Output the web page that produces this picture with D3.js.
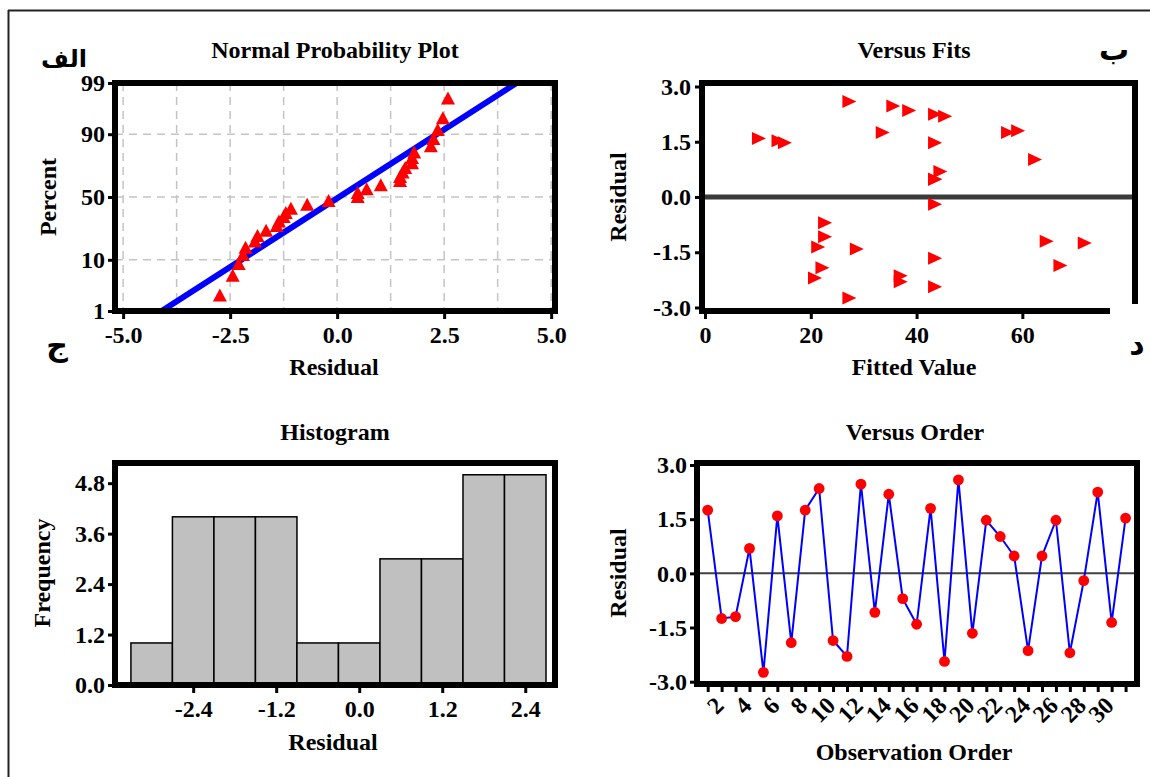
<!DOCTYPE html>
<html>
<head>
<meta charset="utf-8">
<script src="https://cdn.jsdelivr.net/npm/d3@7"></script>
<style>
body{margin:0;background:#fff;}
</style>
</head>
<body>
<div id="chart"></div>
<script>
// residuals in observation order, and the fitted value for each one
var residuals = [1.75, -1.25, -1.20, 0.69, -2.74, 1.59, -1.92, 1.75, 2.35, -1.86,
	-2.30, 2.47, -1.08, 2.19, -0.70, -1.41, 1.80, -2.44, 2.59, -1.66,
	1.47, 1.02, 0.48, -2.14, 0.48, 1.47, -2.20, -0.20, 2.25, -1.36, 1.53];
var fittedValues = [57.3, 71.8, 64.6, 44.5, 27.3, 10.2, 22.2, 33.6, 38.6, 67.2,
	37.0, 35.6, 22.7, 45.4, 22.7, 28.7, 59.2, 43.5, 27.3, 43.5,
	15.1, 62.4, 43.5, 37.0, 43.5, 43.5, 20.8, 43.5, 43.5, 21.4, 13.9];
// histogram bins (midpoints, width 0.6) and counts
var histMidpoints = [-3.0, -2.4, -1.8, -1.2, -0.6, 0.0, 0.6, 1.2, 1.8, 2.4];
var histCounts = [1, 4, 4, 4, 1, 1, 3, 3, 5, 5];
var histBinWidth = 0.6;

// tick labels
var probTicks = [1, 10, 50, 90, 99];
var probGrid = [10, 50, 90];
var residXTicks = [-5, -2.5, 0, 2.5, 5];
var residGridX = [-5, -3.75, -2.5, -1.25, 0, 1.25, 2.5, 3.75, 5];
var residYTicks = [-3, -1.5, 0, 1.5, 3];
var fitTicks = [0, 20, 40, 60];
var histXTicks = [-2.4, -1.2, 0, 1.2, 2.4];
var histYTicks = [0, 1.2, 2.4, 3.6, 4.8];
var orderTicks = d3.range(1, 32);

var W = 1150, H = 777;
var FONT = "'Liberation Serif','Times New Roman',serif";
var AR_FONT = "'DejaVu Sans',sans-serif";
var RED = "#ff0000", BLUE = "#0000ff";

var svg = d3.select("#chart").append("svg")
	.attr("width", W).attr("height", H)
	.style("background", "#fff");

// inverse normal cdf (Acklam)
function normInv(p){
	var a = [-39.69683028665376, 220.9460984245205, -275.9285104469687, 138.3577518672690, -30.66479806614716, 2.506628277459239];
	var b = [-54.47609879822406, 161.5858368580409, -155.6989798598866, 66.80131188771972, -13.28068155211977];
	var c = [-0.007784894002430293, -0.3223964580411365, -2.400758277161838, -2.549732539343734, 4.374664141464968, 2.938163982698783];
	var d = [0.007784695709041462, 0.3224671290700398, 2.445134137142996, 3.754408661907416];
	var pl = 0.02425, q, r;
	if (p < pl){
		q = Math.sqrt(-2 * Math.log(p));
		return (((((c[0]*q+c[1])*q+c[2])*q+c[3])*q+c[4])*q+c[5]) / ((((d[0]*q+d[1])*q+d[2])*q+d[3])*q+1);
	}
	if (p > 1 - pl){
		q = Math.sqrt(-2 * Math.log(1 - p));
		return -(((((c[0]*q+c[1])*q+c[2])*q+c[3])*q+c[4])*q+c[5]) / ((((d[0]*q+d[1])*q+d[2])*q+d[3])*q+1);
	}
	q = p - 0.5; r = q * q;
	return (((((a[0]*r+a[1])*r+a[2])*r+a[3])*r+a[4])*r+a[5])*q / (((((b[0]*r+b[1])*r+b[2])*r+b[3])*r+b[4])*r+1);
}
function fmt1(v){ return v.toFixed(1); }

function addText(x, y, str, opts){
	opts = opts || {};
	var t = svg.append("text")
		.attr("x", x).attr("y", y)
		.attr("text-anchor", opts.anchor || "middle")
		.attr("font-family", opts.family || FONT)
		.attr("font-weight", "bold")
		.attr("font-size", opts.size || 24)
		.attr("fill", "#000")
		.text(str);
	if (opts.rotate) t.attr("transform", "rotate(" + opts.rotate + "," + x + "," + y + ")").attr("dy", "0.35em");
	return t;
}
function styleAxis(g){
	g.select(".domain").remove();
	g.selectAll(".tick line").attr("stroke", "#000").attr("stroke-width", 3);
	g.selectAll(".tick text")
		.attr("font-family", FONT).attr("font-weight", "bold")
		.attr("font-size", 24).attr("fill", "#000");
}
function frameRect(l, t, r, b){
	svg.append("rect")
		.attr("x", l).attr("y", t).attr("width", r - l).attr("height", b - t)
		.attr("fill", "none").attr("stroke", "#000").attr("stroke-width", 6);
}

// outer border (top and left only)
svg.append("line").attr("x1", 8).attr("y1", 10.5).attr("x2", W).attr("y2", 10.5)
	.attr("stroke", "#222").attr("stroke-width", 2);
svg.append("line").attr("x1", 8.5).attr("y1", 10).attr("x2", 8.5).attr("y2", H)
	.attr("stroke", "#222").attr("stroke-width", 2);

/* ---------- Normal Probability Plot ---------- */
(function(){
	var L = 115, R = 555, T = 83, B = 311;
	var x = d3.scaleLinear().domain([-5.19, 5.09]).range([L, R]);
	var y = d3.scaleLinear().domain([normInv(0.01), normInv(0.99)]).range([B, T]);
	var n = residuals.length;
	var sorted = residuals.slice().sort(d3.ascending);
	var pts = sorted.map(function(v, i){
		return {x: v, z: normInv((i + 1 - 0.3) / (n + 0.4))};
	});
	var mu = d3.mean(residuals), sd = d3.deviation(residuals);

	var grid = svg.append("g").attr("stroke", "#c4c4c4").attr("stroke-width", 1.5)
		.attr("stroke-dasharray", "8,6");
	grid.selectAll(".gx").data(residGridX).enter().append("line")
		.attr("x1", function(d){return x(d);}).attr("x2", function(d){return x(d);})
		.attr("y1", T).attr("y2", B);
	grid.selectAll(".gy").data(probGrid).enter().append("line")
		.attr("x1", L).attr("x2", R)
		.attr("y1", function(d){return y(normInv(d / 100));})
		.attr("y2", function(d){return y(normInv(d / 100));});

	var z1 = normInv(0.01), z2 = normInv(0.99);
	svg.append("line")
		.attr("x1", x(mu + sd * z1)).attr("y1", y(z1))
		.attr("x2", x(mu + sd * z2)).attr("y2", y(z2))
		.attr("stroke", BLUE).attr("stroke-width", 6);

	svg.append("g").selectAll("path").data(pts).enter().append("path")
		.attr("d", "M-7,6L7,6L0,-7Z")
		.attr("fill", RED)
		.attr("transform", function(d){return "translate(" + x(d.x) + "," + y(d.z) + ")";});

	frameRect(L, T, R, B);

	svg.append("g").attr("transform", "translate(0," + B + ")")
		.call(d3.axisBottom(x).tickValues(residXTicks).tickFormat(fmt1).tickSize(8).tickPadding(7))
		.call(styleAxis);
	svg.append("g").attr("transform", "translate(" + L + ",0)")
		.call(d3.axisLeft(y).tickValues(probTicks.map(function(p){return normInv(p / 100);}))
			.tickFormat(function(d, i){return probTicks[i];}).tickSize(7).tickPadding(3))
		.call(styleAxis);

	addText(335, 58, "Normal Probability Plot");
	addText(334, 375, "Residual");
	addText(48, 197, "Percent", {rotate: -90});
})();

/* ---------- Versus Fits ---------- */
(function(){
	var L = 702, R = 1135, T = 83, B = 311;
	var x = d3.scaleLinear().domain([-0.57, 81.3]).range([L, R]);
	var y = d3.scaleLinear().domain([-3, 3]).range([307.5, 86.5]);

	svg.append("line").attr("x1", L).attr("x2", R + 3).attr("y1", y(0)).attr("y2", y(0))
		.attr("stroke", "#3a3a3a").attr("stroke-width", 5);

	svg.append("g").selectAll("path").data(residuals).enter().append("path")
		.attr("d", "M-7,-6.5L7,0L-7,6.5Z")
		.attr("fill", RED)
		.attr("transform", function(d, i){return "translate(" + x(fittedValues[i]) + "," + y(d) + ")";});

	// frame: open at the lower right corner
	var fr = svg.append("g").attr("stroke", "#000").attr("stroke-width", 6);
	fr.append("line").attr("x1", L - 3).attr("x2", R + 3).attr("y1", T).attr("y2", T);
	fr.append("line").attr("x1", L).attr("x2", L).attr("y1", T).attr("y2", B + 3);
	fr.append("line").attr("x1", L).attr("x2", 1110).attr("y1", B).attr("y2", B);
	fr.append("line").attr("x1", R).attr("x2", R).attr("y1", T - 3).attr("y2", 304);

	svg.append("g").attr("transform", "translate(0," + B + ")")
		.call(d3.axisBottom(x).tickValues(fitTicks).tickFormat(d3.format("d")).tickSize(8).tickPadding(7))
		.call(styleAxis);
	svg.append("g").attr("transform", "translate(" + L + ",0)")
		.call(d3.axisLeft(y).tickValues(residYTicks).tickFormat(fmt1).tickSize(7).tickPadding(4))
		.call(styleAxis);

	addText(914, 58, "Versus Fits");
	addText(914, 375, "Fitted Value");
	addText(618, 197, "Residual", {rotate: -90});
})();

/* ---------- Histogram ---------- */
(function(){
	var L = 115, R = 555, T = 463, B = 685;
	var x = d3.scaleLinear().domain([-3.53, 2.83]).range([L, R]);
	var y = d3.scaleLinear().domain([0, 5.28]).range([B, T]);

	svg.append("g").selectAll("rect").data(histCounts).enter().append("rect")
		.attr("x", function(d, i){return x(histMidpoints[i] - histBinWidth / 2);})
		.attr("width", function(d, i){return x(histMidpoints[i] + histBinWidth / 2) - x(histMidpoints[i] - histBinWidth / 2);})
		.attr("y", function(d){return y(d);})
		.attr("height", function(d){return y(0) - y(d);})
		.attr("fill", "#c0c0c0").attr("stroke", "#000").attr("stroke-width", 1.5);

	frameRect(L, T, R, B);

	svg.append("g").attr("transform", "translate(0," + B + ")")
		.call(d3.axisBottom(x).tickValues(histXTicks).tickFormat(fmt1).tickSize(8).tickPadding(7))
		.call(styleAxis);
	svg.append("g").attr("transform", "translate(" + L + ",0)")
		.call(d3.axisLeft(y).tickValues(histYTicks).tickFormat(fmt1).tickSize(7).tickPadding(3))
		.call(styleAxis);

	addText(335, 440, "Histogram");
	addText(333, 750, "Residual");
	addText(42, 573, "Frequency", {rotate: -90});
})();

/* ---------- Versus Order ---------- */
(function(){
	var L = 697, R = 1137, T = 463, B = 684;
	var x = d3.scaleLinear().domain([0.232, 31.82]).range([L, R]);
	var y = d3.scaleLinear().domain([-3, 3]).range([681.7, 465]);
	var data = residuals.map(function(v, i){return {o: i + 1, v: v};});

	svg.append("line").attr("x1", L).attr("x2", R).attr("y1", y(0)).attr("y2", y(0))
		.attr("stroke", "#404040").attr("stroke-width", 2);

	svg.append("path").datum(data)
		.attr("fill", "none").attr("stroke", BLUE).attr("stroke-width", 2)
		.attr("d", d3.line().x(function(d){return x(d.o);}).y(function(d){return y(d.v);}));

	svg.append("g").selectAll("circle").data(data).enter().append("circle")
		.attr("cx", function(d){return x(d.o);})
		.attr("cy", function(d){return y(d.v);})
		.attr("r", 5.4).attr("fill", RED);

	frameRect(L, T, R, B);

	svg.append("g").attr("transform", "translate(0," + B + ")")
		.call(d3.axisBottom(x).tickValues(orderTicks)
			.tickFormat(function(d){return d % 2 === 0 ? String(d) : "";}).tickSize(8))
		.call(styleAxis)
		.call(function(g){
			g.selectAll(".tick text")
				.attr("x", -14).attr("y", 10).attr("dy", "0.35em")
				.attr("text-anchor", "end")
				.attr("transform", "rotate(-45)");
		});
	svg.append("g").attr("transform", "translate(" + L + ",0)")
		.call(d3.axisLeft(y).tickValues(residYTicks).tickFormat(fmt1).tickSize(7).tickPadding(3))
		.call(styleAxis);

	addText(915, 440, "Versus Order");
	addText(914, 760, "Observation Order");
	addText(618, 573, "Residual", {rotate: -90});
})();

// panel letters
addText(64, 67, "الف", {family: AR_FONT, size: 24});
addText(1114, 60, "ب", {family: AR_FONT, size: 30});
addText(57, 356, "ج", {family: AR_FONT, size: 30});
addText(1137, 354, "د", {family: AR_FONT, size: 30});
</script>
</body>
</html>
